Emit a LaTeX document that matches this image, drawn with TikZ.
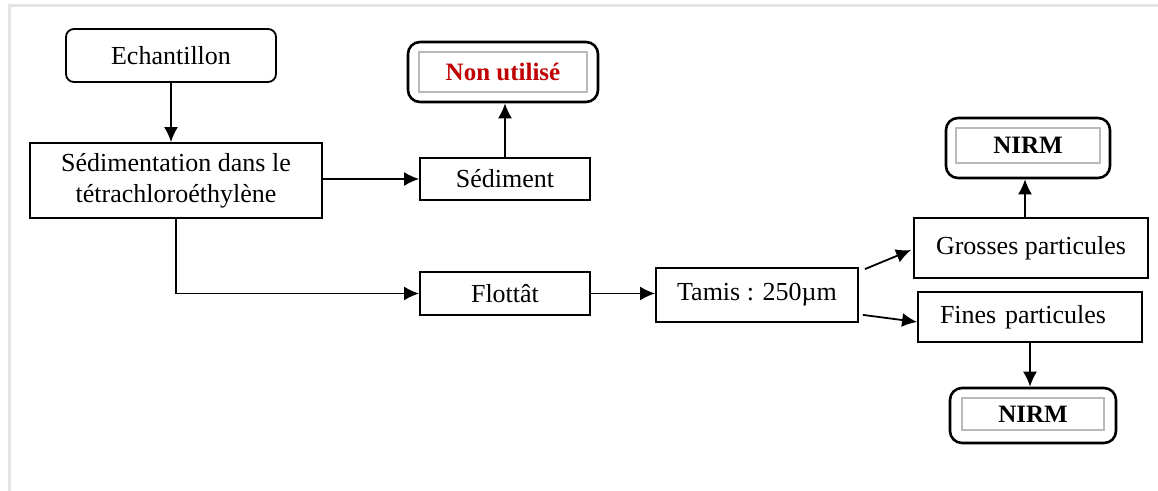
\documentclass[tikz,border=0pt]{standalone}
\usepackage{fontspec}
\setmainfont{Liberation Serif}
\usetikzlibrary{arrows.meta}
\definecolor{darkred}{RGB}{192,0,0}

\begin{document}
\begin{tikzpicture}[x=0.5pt, y=-0.5pt, >={Latex[length=7.5pt,width=7pt]},
  box/.style={draw, line width=0.9pt, inner sep=0pt, align=center,
    font=\fontsize{13}{15.5}\selectfont},
  outerbox/.style={draw, line width=1.3pt, rounded corners=6pt, inner sep=0pt},
  innerbox/.style={draw=gray!55, line width=0.8pt, inner sep=0pt,
    font=\bfseries\fontsize{12.5}{15}\selectfont},
  link/.style={->, line width=0.9pt}]
  \useasboundingbox (0,0) rectangle (1158,491);
  % frame
  \draw[gray!20, line width=1.5pt] (1158,6) -- (9,6) -- (9,491);

  % left column
  \node[box, rounded corners=4pt, minimum width=105pt, minimum height=26.5pt] (echant) at (171,55.5) {Echantillon};
  \node[box, minimum width=146pt, minimum height=37.5pt] (sedim) at (176,180.5) {Sédimentation dans le\\tétrachloroéthylène};

  % middle
  \node[outerbox, minimum width=95pt, minimum height=30pt] (nonutil) at (503,72) {};
  \node[innerbox, text=darkred, minimum width=84pt, minimum height=20pt] at (nonutil) {Non utilisé};
  \node[box, minimum width=85pt, minimum height=21pt] (sediment) at (505,179) {Sédiment};
  \node[box, minimum width=85pt, minimum height=21.5pt] (flottat) at (505,293.5) {Flottât};
  \node[box, minimum width=101pt, minimum height=27pt] (tamis) at (757,295) {Tamis : 250µm};

  % right column
  \node[box, minimum width=117pt, minimum height=30pt] (grosses) at (1031,248) {Grosses particules};
  \node[box, minimum height=25pt, inner xsep=11pt, text width=90pt, align=left] (fines) at (1030,317) {Fines particules};
  \node[outerbox, minimum width=82pt, minimum height=30pt] (nirmA) at (1028,148) {};
  \node[innerbox, minimum width=72pt, minimum height=17.5pt] at (1028,145.5) {NIRM};
  \node[outerbox, minimum width=83pt, minimum height=27.5pt] (nirmB) at (1033,415.5) {};
  \node[innerbox, minimum width=71pt, minimum height=16pt] at (1033,414) {NIRM};

  % connectors
  \draw[link] (echant.south) -- (echant.south |- sedim.north);
  \draw[link] (sedim.east |- sediment.west) -- (sediment.west);
  \draw[link] (sediment.north) -- (sediment.north |- nonutil.south);
  \draw[link] (sedim.south) |- (flottat.west);
  \draw[link] (flottat.east) -- (flottat.east -| tamis.west);
  \draw[link] ([xshift=3pt,yshift=-1pt]tamis.north east) -- ([xshift=-1pt,yshift=-1pt]grosses.west);
  \draw[link] ([xshift=2pt,yshift=4pt]tamis.south east) -- ([yshift=-2.5pt]fines.west);
  \draw[link] ([xshift=-3pt]grosses.north) -- ([xshift=-3pt]grosses.north |- nirmA.south);
  \draw[link] (fines.south) -- (fines.south |- nirmB.north);

\end{tikzpicture}
\end{document}
